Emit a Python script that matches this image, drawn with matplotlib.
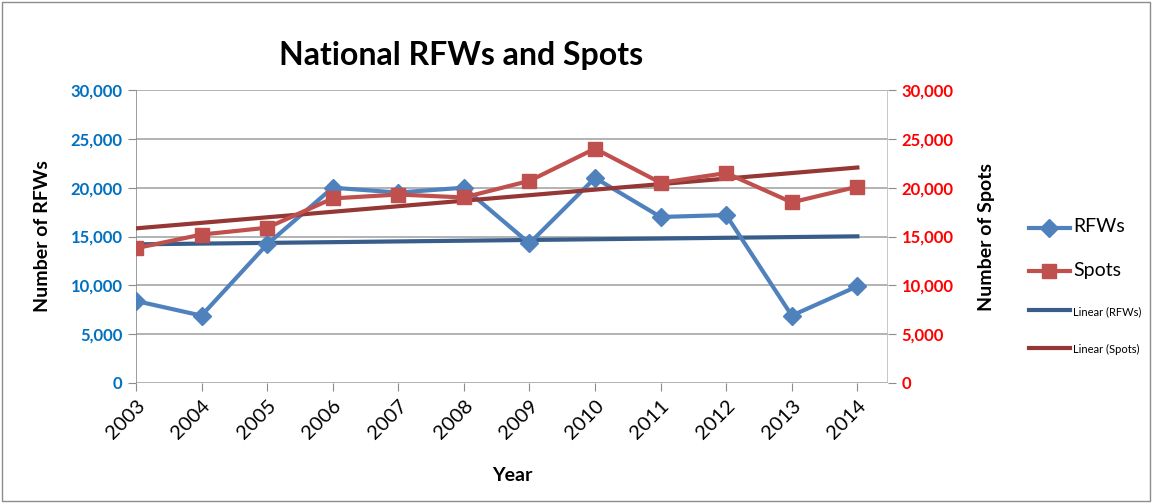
import numpy as np
import matplotlib
matplotlib.use("Agg")
import matplotlib.pyplot as plt
from matplotlib.ticker import FuncFormatter
from matplotlib.lines import Line2D

plt.rcParams['font.family'] = ['Lato', 'DejaVu Sans']

#%% DATA
years = [2003, 2004, 2005, 2006, 2007, 2008, 2009, 2010, 2011, 2012, 2013, 2014]
rfws = [8400, 6900, 14200, 20000, 19500, 20000, 14300, 21000, 17000, 17200, 6900, 9900]
spots = [13800, 15200, 15900, 18900, 19300, 19000, 20700, 24000, 20500, 21500, 18500, 20100]
yTicks = [0, 5000, 10000, 15000, 20000, 25000, 30000]

#%% TREND LINES (excel style linear fit)
x = np.arange(len(years))
rfwFit = np.polyval(np.polyfit(x, rfws, 1), x)
spotFit = np.polyval(np.polyfit(x, spots, 1), x)

#%% PLOT
fig = plt.figure(figsize=(11.52, 5.03), dpi=100)
fig.patches.append(plt.Rectangle((0.002, 0.004), 0.996, 0.992, transform=fig.transFigure,
                                 fill=False, edgecolor="#8c8c8c", linewidth=1))
ax = fig.add_axes([0.118, 0.2386, 0.653, 0.5824])
ax2 = ax.twinx()

blue = "#4F81BD"; red = "#C0504D"
ax.plot(x, rfws, color=blue, lw=3, marker="D", ms=9, zorder=4)
ax2.plot(x, spots, color=red, lw=3, marker="s", ms=10, zorder=3)
ax.plot(x, rfwFit, color="#385D8A", lw=3, zorder=3)
ax2.plot(x, spotFit, color="#953735", lw=3, zorder=2)

for a in (ax, ax2):
    a.set_ylim(0, 30000)
    a.set_yticks(yTicks)
    a.yaxis.set_major_formatter(FuncFormatter(lambda v, p: "{:,.0f}".format(v)))
    a.set_xlim(0, len(years) - 0.53)
    for s in a.spines.values():
        s.set_visible(False)
ax.grid(axis="y", color="#a6a6a6", lw=1.2)
ax.set_axisbelow(True)
ax.axvline(0, color="#8c8c8c", lw=1.2)
ax2.axvline(len(years) - 0.53, color="#bfbfbf", lw=1.2)

ax.set_xticks(x)
ax.set_xticklabels([str(y) for y in years], rotation=45, fontsize=14.5, ha="right", rotation_mode="anchor")
ax.tick_params(axis="x", length=6, color="#8c8c8c", pad=4)
ax.tick_params(axis="y", length=6, color="#8c8c8c", labelsize=12, labelcolor="#0070C0")
ax2.tick_params(axis="y", length=6, color="#8c8c8c", labelsize=12, labelcolor="#FF0000")
for lab in ax.get_yticklabels() + ax2.get_yticklabels():
    lab.set_fontweight("bold")

ax.set_xlabel("Year", fontsize=14, fontweight="bold", labelpad=18)
ax.set_ylabel("Number of RFWs", fontsize=14, fontweight="bold", labelpad=14)
ax2.set_ylabel("Number of Spots", fontsize=14, fontweight="bold", labelpad=18)
fig.text(0.40, 0.89, "National RFWs and Spots", ha="center", va="center", fontsize=23, fontweight="bold")

handles = [Line2D([], [], color=blue, lw=3, marker="D", ms=9),
           Line2D([], [], color=red, lw=3, marker="s", ms=10),
           Line2D([], [], color="#385D8A", lw=3),
           Line2D([], [], color="#953735", lw=3)]
leg = fig.legend(handles, ["RFWs", "Spots", "Linear (RFWs)", "Linear (Spots)"],
                 loc="center left", bbox_to_anchor=(0.882, 0.43), frameon=False,
                 handlelength=3, labelspacing=1.9, handletextpad=0.2)
for t, s in zip(leg.get_texts(), [14, 14, 8, 8]):
    t.set_fontsize(s)

fig.savefig("out.png", dpi=100)
